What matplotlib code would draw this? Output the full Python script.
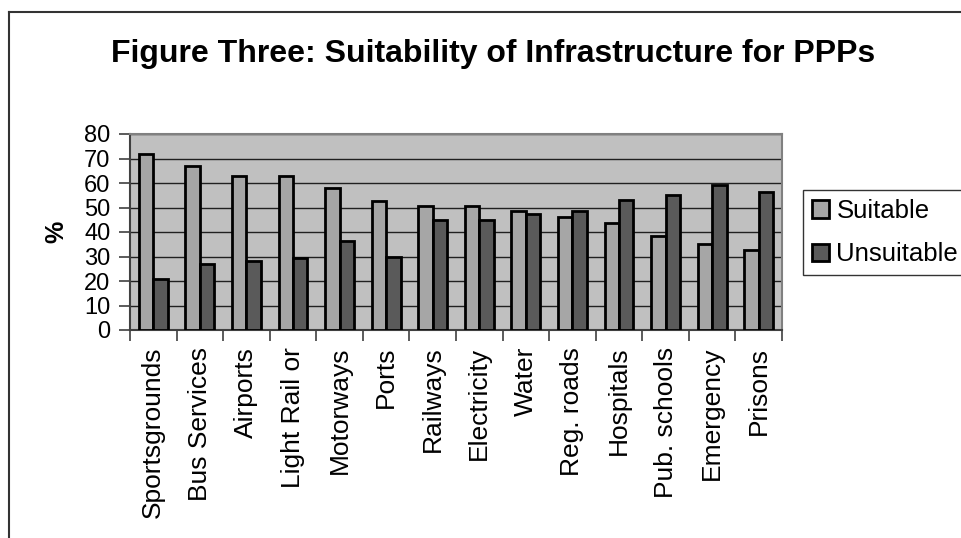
import numpy as np
import matplotlib
matplotlib.use("Agg")
import matplotlib.pyplot as plt
from matplotlib.lines import Line2D

plt.rcParams['font.family'] = ['Liberation Sans', 'DejaVu Sans']

# ---- Data ---- #
categories = ["Sportsgrounds", "Bus Services", "Airports", "Light Rail or", "Motorways",
              "Ports", "Railways", "Electricity", "Water", "Reg. roads", "Hospitals",
              "Pub. schools", "Emergency", "Prisons"]
suitable = [72, 67, 63, 63, 58, 52.5, 50.5, 50.5, 48.5, 46, 43.5, 38.5, 35, 32.5]
unsuitable = [21, 27, 28, 29.5, 36.5, 30, 45, 45, 47.5, 48.5, 53, 55, 59, 56.5]
yticks = [0, 10, 20, 30, 40, 50, 60, 70, 80]

fig = plt.figure(figsize=(9.62, 5.38), dpi=100)
ax = fig.add_axes([130/962, 1-330/538, 652/962, 196/538])

x = np.arange(len(categories))
w = 0.31
ax.bar(x - w/2, suitable, w, color="#a6a6a6", edgecolor="black", linewidth=2.0,
       label="Suitable", zorder=3)
ax.bar(x + w/2, unsuitable, w, color="#5a5a5a", edgecolor="black", linewidth=2.0,
       label="Unsuitable", zorder=3)

ax.set_facecolor("#c0c0c0")
ax.set_xlim(-0.5, len(categories) - 0.5)
ax.set_ylim(0, 80)
ax.set_yticks(yticks)
ax.set_yticklabels([str(t) for t in yticks], fontsize=17)
ax.yaxis.grid(True, color="#202020", linewidth=1.0, zorder=0)
ax.set_axisbelow(True)

# category labels at centres, tick marks at boundaries
ax.set_xticks(x)
ax.set_xticklabels(categories, rotation=90, fontsize=19, va="top", ha="center")
ax.tick_params(axis="x", which="major", length=0, pad=12)
ax.set_xticks(np.arange(len(categories) + 1) - 0.5, minor=True)
ax.tick_params(axis="x", which="minor", length=8, width=1.2, direction="out", color="#404040")
ax.tick_params(axis="y", length=8, width=1.2, direction="out", color="#404040", pad=6)

for s in ["left", "bottom"]:
    ax.spines[s].set_color("#404040")
    ax.spines[s].set_linewidth(1.5)
for s in ["top", "right"]:
    ax.spines[s].set_color("#808080")
    ax.spines[s].set_linewidth(1.5)

fig.text(56/962, 1-232/538, "%", rotation=90, fontsize=18, fontweight="bold",
         ha="center", va="center")

fig.text(493/962, 1-62/538, "Figure Three: Suitability of Infrastructure for PPPs",
         fontsize=23, fontweight="bold", ha="center", va="baseline")

leg = fig.legend(loc="upper left", bbox_to_anchor=(803/962, 1-190/538), fontsize=18.5,
                 frameon=True, fancybox=False, edgecolor="black", handlelength=0.65,
                 handleheight=0.65, handletextpad=0.3, labelspacing=0.75,
                 borderpad=0.35, borderaxespad=0)
leg.get_frame().set_linewidth(1.0)

# outer chart border (left and top only visible)
fig.add_artist(Line2D([9/962, 9/962], [0, 1-11.5/538], color="#333333", linewidth=1.5))
fig.add_artist(Line2D([9/962, 1], [1-11.5/538, 1-11.5/538], color="#333333", linewidth=1.5))

plt.savefig("out.png", dpi=100)
